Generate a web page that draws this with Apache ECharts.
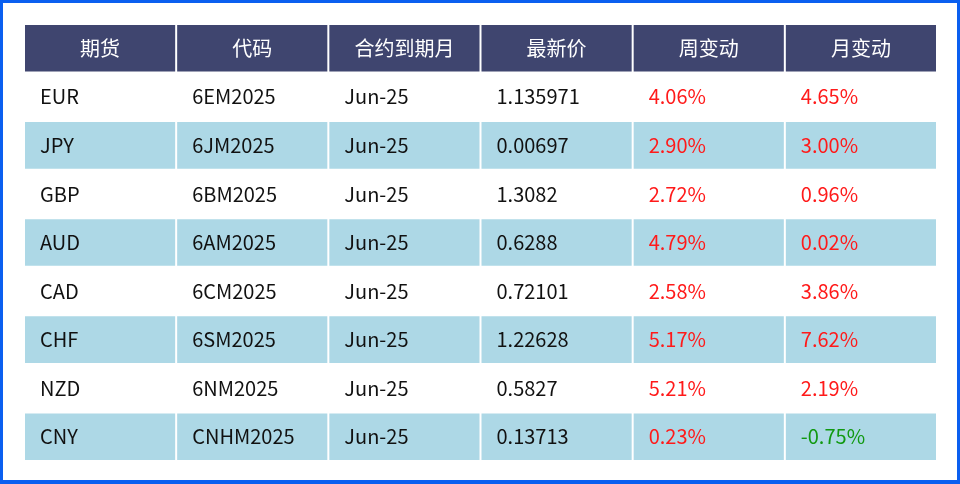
<!DOCTYPE html>
<html><head><meta charset="utf-8">
<script src="https://cdn.jsdelivr.net/npm/echarts@6/dist/echarts.min.js"></script>
<style>
html,body{margin:0;padding:0;background:#fff}
#chart{width:960px;height:484px;box-sizing:border-box;border:3px solid #0a5ff0;border-bottom-width:4px}
</style></head>
<body><div id="chart"></div>
<script>
const headers = ['期货', '代码', '合约到期月', '最新价', '周变动', '月变动'];
const currencies = ['EUR', 'JPY', 'GBP', 'AUD', 'CAD', 'CHF', 'NZD', 'CNY'];
const codes = ['6EM2025', '6JM2025', '6BM2025', '6AM2025', '6CM2025', '6SM2025', '6NM2025', 'CNHM2025'];
const expiry = ['Jun-25', 'Jun-25', 'Jun-25', 'Jun-25', 'Jun-25', 'Jun-25', 'Jun-25', 'Jun-25'];
const lastPrice = ['1.135971', '0.00697', '1.3082', '0.6288', '0.72101', '1.22628', '0.5827', '0.13713'];
const weekChg = [4.06, 2.90, 2.72, 4.79, 2.58, 5.17, 5.21, 0.23];
const monthChg = [4.65, 3.00, 0.96, 0.02, 3.86, 7.62, 2.19, -0.75];

const pct = v => v.toFixed(2) + '%';
const chgColor = v => v < 0 ? '#119911' : '#ff1a1a';

let cells = [];
headers.forEach((h, c) => cells.push([c, 0, h, '#ffffff', '#3f456f', 1]));
currencies.forEach((cur, i) => {
    let r = i + 1;
    let bg = i % 2 === 1 ? '#add8e6' : '#ffffff';
    let row = [cur, codes[i], expiry[i], lastPrice[i], pct(weekChg[i]), pct(monthChg[i])];
    row.forEach((t, c) => {
        let color = '#111111';
        if (c === 4) color = chgColor(weekChg[i]);
        if (c === 5) color = chgColor(monthChg[i]);
        cells.push([c, r, t, color, bg, 0]);
    });
});

let chart = echarts.init(document.getElementById('chart'));
chart.setOption({
    animation: false,
    grid: {left: 21, right: 20, top: 21, bottom: 19},
    xAxis: {type: 'category', data: headers.map((h, i) => i), show: false},
    yAxis: {type: 'category', data: [0, 1, 2, 3, 4, 5, 6, 7, 8], inverse: true, show: false},
    series: [{
        type: 'custom',
        data: cells,
        renderItem: (params, api) => {
            let p = api.coord([api.value(0), api.value(1)]);
            let s = api.size([1, 1]);
            let d = cells[params.dataIndex];
            let x0 = p[0] - s[0] / 2, y0 = p[1] - s[1] / 2;
            let isHead = d[5] === 1;
            return {
                type: 'group',
                children: [{
                    type: 'rect',
                    shape: {x: x0 + 1, y: y0 + 1, width: s[0] - 2, height: s[1] - 2},
                    style: {fill: d[4]}
                }, {
                    type: 'text',
                    style: {
                        x: isHead ? p[0] : x0 + 16,
                        y: p[1],
                        text: d[2],
                        fill: d[3],
                        align: isHead ? 'center' : 'left',
                        verticalAlign: 'middle',
                        font: '20px "Noto Sans CJK SC", sans-serif'
                    }
                }]
            };
        }
    }]
});
</script></body></html>
